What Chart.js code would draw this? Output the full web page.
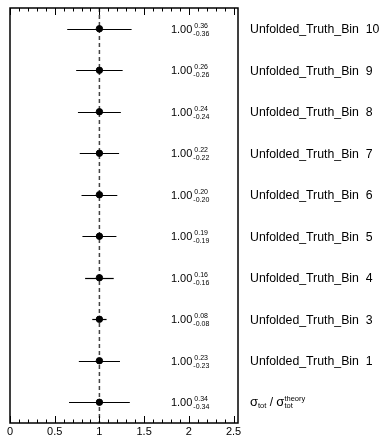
<!DOCTYPE html>
<html>
<head>
<meta charset="utf-8">
<script src="https://cdn.jsdelivr.net/npm/chart.js@4.4.1/dist/chart.umd.min.js"></script>
<style>
  html, body { margin: 0; padding: 0; background: #fff; }
  #wrap { width: 383px; height: 436px; }
</style>
</head>
<body>
<div id="wrap"><canvas id="pullChart" width="383" height="436"></canvas></div>
<script>
// rows from bottom to top
const rowLabels = ['TOTAL', 'Unfolded_Truth_Bin  1', 'Unfolded_Truth_Bin  3', 'Unfolded_Truth_Bin  4',
    'Unfolded_Truth_Bin  5', 'Unfolded_Truth_Bin  6', 'Unfolded_Truth_Bin  7', 'Unfolded_Truth_Bin  8',
    'Unfolded_Truth_Bin  9', 'Unfolded_Truth_Bin  10'];
const centralValues = [1.00, 1.00, 1.00, 1.00, 1.00, 1.00, 1.00, 1.00, 1.00, 1.00];
const errorsUp = [0.34, 0.23, 0.08, 0.16, 0.19, 0.20, 0.22, 0.24, 0.26, 0.36];
const errorsDown = [0.34, 0.23, 0.08, 0.16, 0.19, 0.20, 0.22, 0.24, 0.26, 0.36];
const xTicks = [0, 0.5, 1, 1.5, 2, 2.5];
const xMinorStep = 0.1;
const refValue = 1;

const FONT = '"Liberation Sans", Arial, Helvetica, sans-serif';

const pullPlugin = {
    id: 'pullPlugin',
    beforeDatasetsDraw(chart) {
        const {ctx, chartArea: {left, top, right, bottom}, scales: {x, y}} = chart;
        ctx.save();
        // dashed reference line
        ctx.strokeStyle = '#444';
        ctx.lineWidth = 1.5;
        ctx.setLineDash([4, 3]);
        ctx.beginPath();
        ctx.moveTo(x.getPixelForValue(refValue), top);
        ctx.lineTo(x.getPixelForValue(refValue), bottom);
        ctx.stroke();
        ctx.setLineDash([]);
        // error bars
        ctx.strokeStyle = '#000';
        ctx.lineWidth = 1.2;
        centralValues.forEach((v, i) => {
            const py = Math.round(y.getPixelForValue(i)) + 0.5;
            ctx.beginPath();
            ctx.moveTo(x.getPixelForValue(v - errorsDown[i]), py);
            ctx.lineTo(x.getPixelForValue(v + errorsUp[i]), py);
            ctx.stroke();
        });
        ctx.restore();
    },
    afterDraw(chart) {
        const {ctx, chartArea: {left, top, right, bottom}, scales: {x, y}} = chart;
        ctx.save();
        // frame
        ctx.strokeStyle = '#000';
        ctx.lineWidth = 1.5;
        ctx.strokeRect(left, top, right - left, bottom - top);
        // ticks top and bottom, inward
        ctx.lineWidth = 1;
        ctx.beginPath();
        for (let t = 0; t <= x.max + 1e-9; t += xMinorStep) {
            const v = Math.round(t * 10) / 10;
            const px = Math.round(x.getPixelForValue(v)) + 0.5;
            const major = xTicks.some(m => Math.abs(m - v) < 1e-6);
            const len = major ? 7 : 3.5;
            ctx.moveTo(px, bottom);
            ctx.lineTo(px, bottom - len);
            ctx.moveTo(px, top);
            ctx.lineTo(px, top + len);
        }
        ctx.stroke();
        // tick labels
        ctx.fillStyle = '#000';
        ctx.font = '11px ' + FONT;
        ctx.textAlign = 'center';
        ctx.textBaseline = 'alphabetic';
        xTicks.forEach(t => {
            ctx.fillText(String(t), x.getPixelForValue(t), bottom + 12);
        });
        // value annotations and row labels
        ctx.textAlign = 'left';
        centralValues.forEach((v, i) => {
            const py = y.getPixelForValue(i);
            const tx = x.getPixelForValue(1.8);
            ctx.font = '11px ' + FONT;
            ctx.fillText(v.toFixed(2), tx, py + 4);
            const w = ctx.measureText(v.toFixed(2)).width;
            ctx.font = '7px ' + FONT;
            ctx.fillText(errorsUp[i].toFixed(2), tx + w + 2, py - 1);
            ctx.fillText('-' + errorsDown[i].toFixed(2), tx + w + 1, py + 7);

            const lx = right + 12;
            if (rowLabels[i] === 'TOTAL') {
                ctx.font = '13px ' + FONT;
                ctx.fillText('σ', lx, py + 4);
                let cx = lx + ctx.measureText('σ').width;
                ctx.font = '7.5px ' + FONT;
                ctx.fillText('tot', cx, py + 6);
                cx += ctx.measureText('tot').width;
                ctx.font = '12px ' + FONT;
                ctx.fillText(' / ', cx, py + 4);
                cx += ctx.measureText(' / ').width;
                ctx.font = '13px ' + FONT;
                ctx.fillText('σ', cx, py + 4);
                cx += ctx.measureText('σ').width;
                ctx.font = '7.5px ' + FONT;
                ctx.fillText('theory', cx, py - 1);
                ctx.fillText('tot', cx, py + 6);
            } else {
                ctx.font = '12.3px ' + FONT;
                ctx.fillText(rowLabels[i], lx, py + 4.5);
            }
        });
        ctx.restore();
    }
};

const ctxEl = document.getElementById('pullChart');
new Chart(ctxEl, {
    type: 'scatter',
    data: {
        datasets: [{
            data: centralValues.map((v, i) => ({x: v, y: i})),
            pointBackgroundColor: '#000',
            pointBorderColor: '#000',
            pointRadius: 3.2,
            pointStyle: 'circle'
        }]
    },
    options: {
        responsive: false,
        animation: false,
        events: [],
        layout: {
            padding: {left: 10, right: 145, top: 8, bottom: 13}
        },
        plugins: {
            legend: {display: false},
            tooltip: {enabled: false}
        },
        scales: {
            x: {
                type: 'linear',
                min: 0,
                max: 2.55,
                display: false
            },
            y: {
                type: 'linear',
                min: -0.5,
                max: 9.5,
                display: false
            }
        }
    },
    plugins: [pullPlugin]
});
</script>
</body>
</html>
